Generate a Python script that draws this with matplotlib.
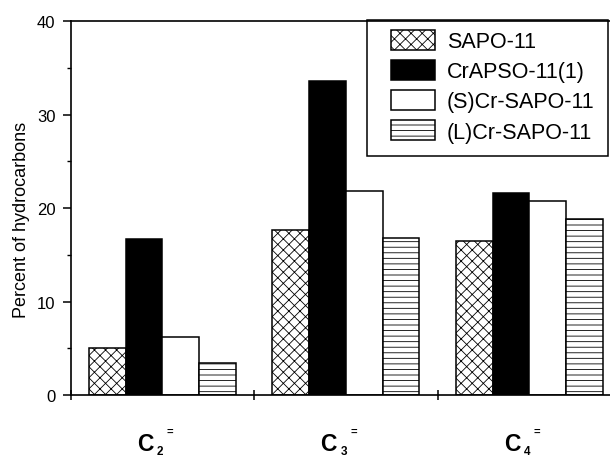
import matplotlib
matplotlib.use('Agg')
import matplotlib.pyplot as plt
import numpy as np
from matplotlib.patches import Rectangle

plt.rcParams['font.family'] = ['Liberation Sans', 'DejaVu Sans']
plt.rcParams['hatch.linewidth'] = 0.6

# data
groups = ['2', '3', '4']
catalysts = ['SAPO-11', 'CrAPSO-11(1)', '(S)Cr-SAPO-11', '(L)Cr-SAPO-11']
sapo = [5.0, 17.6, 16.5]
crapso = [16.7, 33.6, 21.6]
s_cr = [6.2, 21.8, 20.7]
l_cr = [3.4, 16.8, 18.8]

series = [sapo, crapso, s_cr, l_cr]
faces = ['white', 'black', 'white', 'white']
hatches = ['xxx', None, None, '---']

fig = plt.figure(figsize=(6.1, 4.6), dpi=100)
ax = fig.add_axes([0.1159, 0.1391, 0.8841, 0.8130])

xs = np.arange(len(groups))
width = 0.2
for i, vals in enumerate(series):
    ax.bar(xs + (i - 1.5) * width, vals, width, color=faces[i],
           edgecolor='black', linewidth=1.1, hatch=hatches[i],
           label=catalysts[i])

ax.set_xlim(-0.5, 2.44)
ax.set_ylim(0, 40)
ax.set_yticks([0, 10, 20, 30, 40])
ax.set_yticks([5, 15, 25, 35], minor=True)
ax.set_xticks([-0.5, 0.5, 1.5])
ax.set_xticklabels([])
ax.tick_params(axis='y', which='major', direction='out', length=6, width=1.1,
               labelsize=12, pad=5)
ax.tick_params(axis='y', which='minor', direction='out', length=3, width=1)
ax.tick_params(axis='x', which='major', direction='inout', length=7, width=1.1)
for s in ['left', 'bottom', 'top']:
    ax.spines[s].set_linewidth(1.2)
ax.spines['right'].set_visible(False)

ax.set_ylabel('Percent of hydrocarbons', fontsize=13)
ax.yaxis.set_label_coords(-0.076, 0.47)

# category labels C2=, C3=, C4=
for x, g in zip(xs, groups):
    kw = dict(xy=(x, 0), xycoords=('data', 'axes fraction'),
              textcoords='offset points', annotation_clip=False,
              fontweight='bold', va='baseline', ha='left')
    ax.annotate('C', xytext=(-18.2, -39.5), fontsize=16.5, **kw)
    ax.annotate(g, xytext=(-4.0, -42.8), fontsize=8.5, **kw)
    ax.annotate('=', xytext=(3.2, -28.0), fontsize=8, **kw)

leg = ax.legend(loc='upper left', bbox_to_anchor=(390.7 / 610, 1 - 31 / 460),
                bbox_transform=fig.transFigure, frameon=False, fontsize=15.5,
                handlelength=2.05, handleheight=1.05, handletextpad=0.55,
                labelspacing=0.36, borderpad=0, borderaxespad=0)
fig.patches.append(Rectangle((366.7 / 610, 1 - 157.3 / 460), (608 - 366.7) / 610,
                             (157.3 - 20.7) / 460, transform=fig.transFigure,
                             fill=False, edgecolor='black', linewidth=1.1,
                             zorder=5))

fig.savefig('out.png', dpi=100)
